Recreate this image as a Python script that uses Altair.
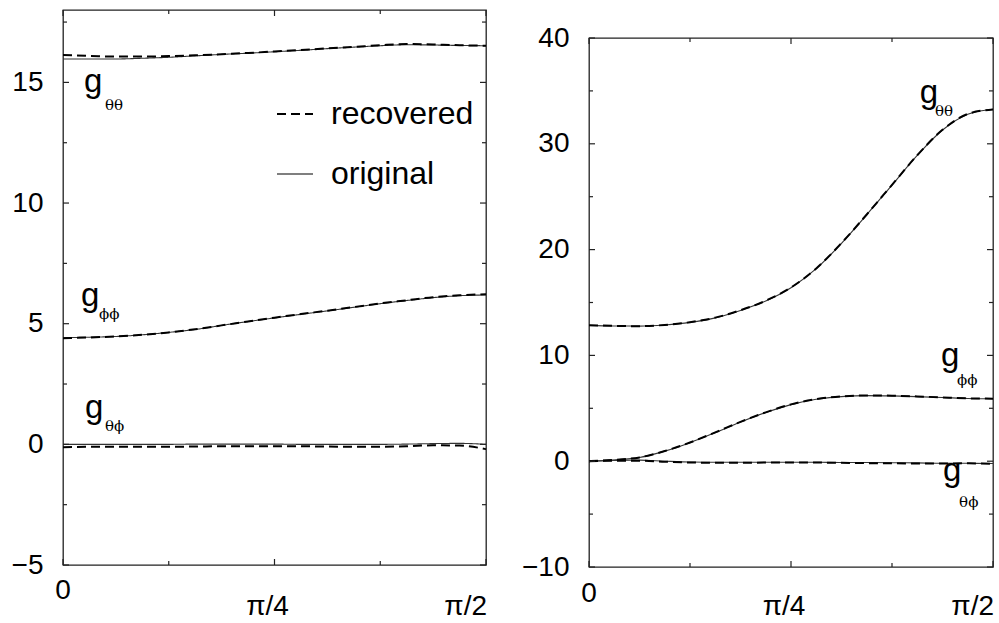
import numpy as np
import pandas as pd
import altair as alt

FONT = "Liberation Sans"
SERIF = "DejaVu Serif"

# sample grid: 0 .. pi/2 in steps of pi/32
THETA = [k * np.pi / 32 for k in range(17)]

# ---- left panel values ----
L_TT_ORIG = [15.97, 15.97, 15.97, 16.00, 16.04, 16.10, 16.16, 16.21, 16.27, 16.33, 16.40, 16.46, 16.52, 16.56, 16.55, 16.53, 16.52]
L_TT_REC = [16.13, 16.10, 16.07, 16.07, 16.09, 16.12, 16.17, 16.22, 16.28, 16.34, 16.41, 16.47, 16.54, 16.59, 16.57, 16.54, 16.52]
L_PP_ORIG = [4.42, 4.44, 4.47, 4.54, 4.64, 4.76, 4.93, 5.09, 5.24, 5.39, 5.53, 5.68, 5.83, 5.96, 6.08, 6.16, 6.19]
L_PP_REC = [4.40, 4.43, 4.47, 4.54, 4.64, 4.77, 4.93, 5.09, 5.25, 5.40, 5.54, 5.69, 5.84, 5.97, 6.10, 6.18, 6.22]
L_TP_ORIG = [0.00, 0.00, 0.00, 0.00, 0.00, 0.01, 0.01, 0.01, 0.01, 0.00, 0.00, 0.00, 0.00, 0.01, 0.03, 0.04, 0.00]
L_TP_REC = [-0.12, -0.10, -0.10, -0.10, -0.10, -0.09, -0.08, -0.08, -0.08, -0.08, -0.09, -0.10, -0.10, -0.08, -0.04, -0.05, -0.20]

# ---- right panel values ----
R_TT_ORIG = [12.84, 12.78, 12.77, 12.88, 13.12, 13.55, 14.25, 15.15, 16.40, 18.20, 20.60, 23.30, 26.10, 28.90, 31.30, 32.80, 33.27]
R_TT_REC = [12.86, 12.79, 12.76, 12.88, 13.14, 13.57, 14.27, 15.17, 16.42, 18.22, 20.62, 23.32, 26.12, 28.92, 31.32, 32.82, 33.25]
R_PP_ORIG = [0.00, 0.12, 0.35, 0.95, 1.75, 2.70, 3.70, 4.60, 5.35, 5.85, 6.10, 6.20, 6.17, 6.10, 6.02, 5.93, 5.90]
R_PP_REC = [0.00, 0.13, 0.36, 0.96, 1.77, 2.72, 3.72, 4.62, 5.37, 5.87, 6.12, 6.22, 6.19, 6.12, 6.03, 5.94, 5.91]
R_TP_ORIG = [0.00, 0.08, 0.10, 0.00, -0.08, -0.10, -0.10, -0.10, -0.10, -0.10, -0.12, -0.12, -0.14, -0.16, -0.20, -0.20, -0.22]
R_TP_REC = [0.00, 0.05, 0.05, -0.05, -0.12, -0.15, -0.15, -0.13, -0.12, -0.13, -0.15, -0.18, -0.20, -0.22, -0.22, -0.20, -0.25]

# ---- axes ----
X_TICK_VALS = [0, np.pi / 4, np.pi / 2]
X_TICK_TEXT = ["0", "π/4", "π/2"]
X_MINOR = [np.pi / 8, 3 * np.pi / 8]
L_Y_DOMAIN = [-5, 18]
L_Y_MAJOR = [-5, 0, 5, 10, 15]
L_Y_MINOR = [-2.5, 2.5, 7.5, 12.5, 17.5]
R_Y_DOMAIN = [-10, 40]
R_Y_MAJOR = [-10, 0, 10, 20, 30, 40]
R_Y_MINOR = [-5, 5, 15, 25, 35]

# ---- annotations (g with subscript) ----
L_G_X = [0.078, 0.067, 0.082]
L_G_Y = [14.60, 5.73, 1.09]
L_SUB_X = [0.156, 0.134, 0.156]
L_SUB_Y = [13.86, 5.20, 0.55]
R_G_X = [1.286, 1.369, 1.376]
R_G_Y = [33.86, 9.0, -1.87]
R_SUB_X = [1.345, 1.431, 1.439]
R_SUB_Y = [32.63, 7.2, -4.33]
SUB_TEXT = ["θθ", "ϕϕ", "θϕ"]

SERIES = ["recovered", "original"]


def long_df(curves, series):
    rows = []
    for name, vals in curves.items():
        for t, v in zip(THETA, vals):
            rows.append({"theta": t, "value": v, "curve": name, "series": series})
    return pd.DataFrame(rows)


def panel(W, H, ydom, ymaj, ymin, orig, rec, gx, gy, sx, sy, xoffs, legend):
    xs = alt.Scale(domain=[0, np.pi / 2], nice=False, zero=False)
    ys = alt.Scale(domain=ydom, nice=False, zero=False)
    yaxis = alt.Axis(values=ymaj, ticks=False, tickSize=0, domain=False, grid=False,
                     labelFontSize=28, labelFont=FONT, labelColor="black",
                     labelPadding=20, title=None, labelFlush=False)

    def X(f):
        return alt.X(f, type="quantitative", scale=xs, axis=None)

    def Y(f):
        return alt.Y(f, type="quantitative", scale=ys, axis=yaxis)

    if legend:
        leg = dict(orient="none", legendX=213, legendY=85, title=None,
                   symbolType="stroke", symbolSize=1296,
                   labelFontSize=32, labelFont=FONT, labelColor="black",
                   labelOffset=17, rowPadding=25, padding=0,
                   symbolStrokeColor="black")
        dash = alt.StrokeDash("series:N", scale=alt.Scale(domain=SERIES, range=[[9, 5], [1, 0]]),
                              legend=alt.Legend(**leg))
        width = alt.StrokeWidth("series:N", scale=alt.Scale(domain=SERIES, range=[2.0, 1.1]),
                                legend=alt.Legend(**leg))
        l_orig = alt.Chart(orig).mark_line(color="#333", interpolate="monotone").encode(
            x=X("theta"), y=Y("value"), detail="curve:N", strokeDash=dash, strokeWidth=width)
        l_rec = alt.Chart(rec).mark_line(color="#000", interpolate="monotone").encode(
            x=X("theta"), y=Y("value"), detail="curve:N", strokeDash=dash, strokeWidth=width)
    else:
        l_orig = alt.Chart(orig).mark_line(color="#333", strokeWidth=1.1, interpolate="monotone").encode(
            x=X("theta"), y=Y("value"), detail="curve:N")
        l_rec = alt.Chart(rec).mark_line(color="#000", strokeWidth=2.0, strokeDash=[9, 5],
                                         interpolate="monotone").encode(
            x=X("theta"), y=Y("value"), detail="curve:N")

    tc = "#222"
    ymaj_df = pd.DataFrame({"v": ymaj})
    ymin_df = pd.DataFrame({"v": ymin})
    xmaj_df = pd.DataFrame({"v": X_TICK_VALS})
    xmin_df = pd.DataFrame({"v": X_MINOR})
    ticks = [
        alt.Chart(ymaj_df).mark_rule(color=tc, strokeWidth=1.2).encode(y=Y("v"), x=alt.value(0), x2=alt.value(6)),
        alt.Chart(ymaj_df).mark_rule(color=tc, strokeWidth=1.2).encode(y=Y("v"), x=alt.value(W - 6), x2=alt.value(W)),
        alt.Chart(ymin_df).mark_rule(color=tc, strokeWidth=1.2).encode(y=Y("v"), x=alt.value(0), x2=alt.value(4)),
        alt.Chart(ymin_df).mark_rule(color=tc, strokeWidth=1.2).encode(y=Y("v"), x=alt.value(W - 4), x2=alt.value(W)),
        alt.Chart(xmaj_df).mark_rule(color=tc, strokeWidth=1.2).encode(x=X("v"), y=alt.value(H - 6), y2=alt.value(H)),
        alt.Chart(xmaj_df).mark_rule(color=tc, strokeWidth=1.2).encode(x=X("v"), y=alt.value(0), y2=alt.value(6)),
        alt.Chart(xmin_df).mark_rule(color=tc, strokeWidth=1.2).encode(x=X("v"), y=alt.value(H - 4), y2=alt.value(H)),
        alt.Chart(xmin_df).mark_rule(color=tc, strokeWidth=1.2).encode(x=X("v"), y=alt.value(0), y2=alt.value(4)),
    ]

    # x tick labels
    aligns = ["center", "center", "right"]
    dxs = [0, -7, 1]
    xlabels = []
    for v, t, a, dx, off in zip(X_TICK_VALS, X_TICK_TEXT, aligns, dxs, xoffs):
        df = pd.DataFrame({"v": [v], "t": [t]})
        xlabels.append(
            alt.Chart(df).mark_text(fontSize=28, font=FONT, color="black", align=a,
                                    baseline="alphabetic", dx=dx).encode(
                x=X("v"), y=alt.value(H + off), text="t:N"))

    g_df = pd.DataFrame({"x": gx, "y": gy, "t": ["g"] * len(gx)})
    s_df = pd.DataFrame({"x": sx, "y": sy, "t": SUB_TEXT})
    g_txt = alt.Chart(g_df).mark_text(fontSize=33, font=FONT, color="black", align="left",
                                      baseline="alphabetic").encode(x=X("x"), y=Y("y"), text="t:N")
    s_txt = alt.Chart(s_df).mark_text(fontSize=15, font=SERIF, color="black", align="left",
                                      baseline="alphabetic").encode(x=X("x"), y=Y("y"), text="t:N")

    return alt.layer(l_orig, l_rec, *ticks, *xlabels, g_txt, s_txt).properties(width=W, height=H)


left_orig = long_df({"tt": L_TT_ORIG, "pp": L_PP_ORIG, "tp": L_TP_ORIG}, "original")
left_rec = long_df({"tt": L_TT_REC, "pp": L_PP_REC, "tp": L_TP_REC}, "recovered")
right_orig = long_df({"tt": R_TT_ORIG, "pp": R_PP_ORIG, "tp": R_TP_ORIG}, "original")
right_rec = long_df({"tt": R_TT_REC, "pp": R_PP_REC, "tp": R_TP_REC}, "recovered")

left = panel(423, 555, L_Y_DOMAIN, L_Y_MAJOR, L_Y_MINOR, left_orig, left_rec,
             L_G_X, L_G_Y, L_SUB_X, L_SUB_Y, [34, 50, 50], True)
right = panel(404, 529, R_Y_DOMAIN, R_Y_MAJOR, R_Y_MINOR, right_orig, right_rec,
              R_G_X, R_G_Y, R_SUB_X, R_SUB_Y, [35, 48, 48], False)

spacer = alt.Chart(pd.DataFrame({"v": [0]})).mark_point(opacity=0, size=1).encode(
    x=alt.value(200), y=alt.value(4)).properties(width=404, height=8,
                                                 view=alt.ViewBackground(stroke="transparent"))

chart = alt.hconcat(
    left,
    alt.vconcat(spacer, right, spacing=20, bounds="flush"),
    spacing=103, bounds="flush",
).properties(
    padding={"left": 10, "top": 8, "right": 0, "bottom": 0},
    background="white",
).configure_view(stroke="#222", strokeWidth=1.3)

chart.save("out.html", embed_options={"renderer": "svg", "actions": False})
